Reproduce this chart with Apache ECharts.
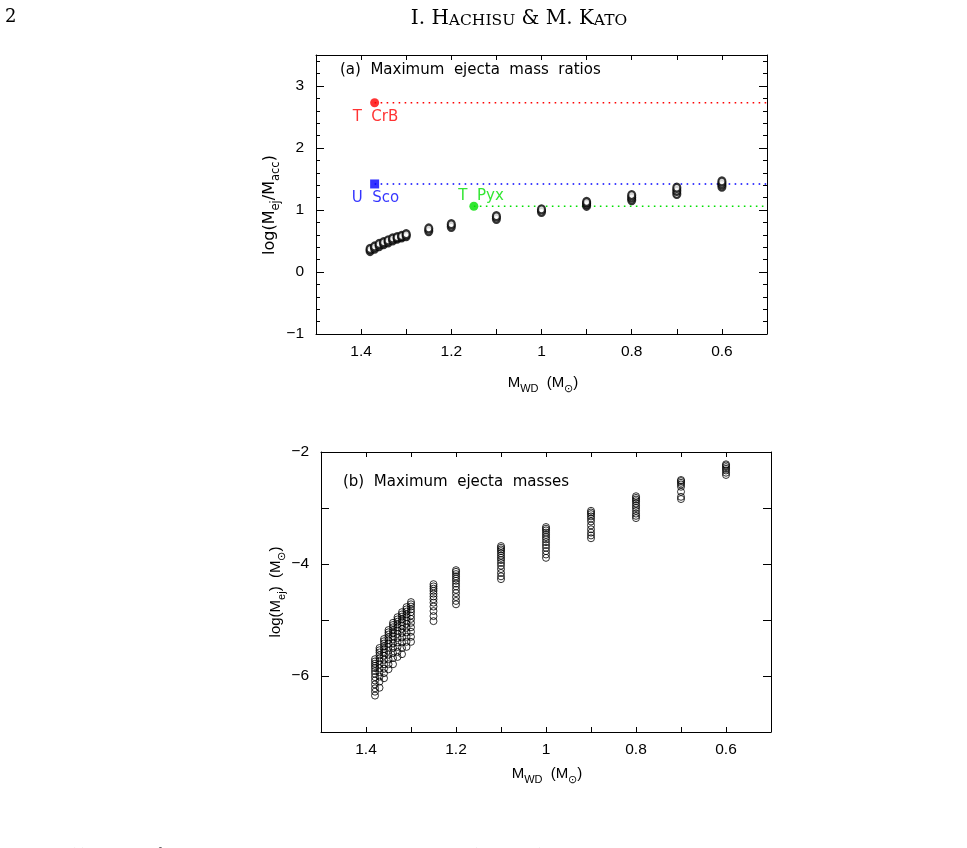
<!DOCTYPE html>
<html>
<head>
<meta charset="utf-8">
<script src="https://cdn.jsdelivr.net/npm/echarts@6/dist/echarts.min.js"></script>
<style>
html, body { margin: 0; padding: 0; background: #fff; }
#main { width: 967px; height: 848px; }
</style>
</head>
<body>
<div id="main"></div>
<script>
// panel (a): log(Mej/Macc) for each WD mass
var massA = [1.38, 1.37, 1.36, 1.35, 1.34, 1.33, 1.32, 1.31, 1.30, 1.25, 1.2, 1.1, 1.0, 0.9, 0.8, 0.7, 0.6];
var ratioA = [
	[0.34, 0.37], [0.38, 0.41], [0.42, 0.45], [0.45, 0.48], [0.48, 0.51],
	[0.51, 0.54], [0.54, 0.56], [0.56, 0.58], [0.58, 0.61],
	[0.66, 0.70], [0.73, 0.77], [0.86, 0.90], [0.97, 1.01],
	[1.07, 1.10, 1.13], [1.16, 1.20, 1.24], [1.26, 1.31, 1.36], [1.38, 1.42, 1.46]
];

// observed recurrent novae
var novaNames = ["T  CrB", "U  Sco", "T  Pyx"];
var novaMass = [1.37, 1.37, 1.15];
var novaRatio = [2.73, 1.42, 1.06];

// panel (b): log(Mej) for each WD mass
var massB = [1.38, 1.37, 1.36, 1.35, 1.34, 1.33, 1.32, 1.31, 1.30, 1.25, 1.2, 1.1, 1.0, 0.9, 0.8, 0.7, 0.6];
var ejectaB = [
	[-5.70, -5.74, -5.78, -5.82, -5.86, -5.91, -5.96, -6.02, -6.08, -6.15, -6.22, -6.28, -6.35],
	[-5.50, -5.54, -5.58, -5.63, -5.68, -5.73, -5.79, -5.86, -5.93, -6.01, -6.10, -6.21],
	[-5.34, -5.38, -5.42, -5.47, -5.52, -5.58, -5.64, -5.71, -5.79, -5.87, -5.95, -6.04],
	[-5.18, -5.22, -5.26, -5.31, -5.36, -5.42, -5.48, -5.55, -5.62, -5.70, -5.79, -5.88],
	[-5.05, -5.09, -5.13, -5.18, -5.23, -5.29, -5.35, -5.42, -5.50, -5.59, -5.68, -5.79],
	[-4.95, -4.99, -5.03, -5.08, -5.13, -5.19, -5.25, -5.32, -5.40, -5.48, -5.57, -5.66],
	[-4.86, -4.90, -4.94, -4.99, -5.04, -5.10, -5.16, -5.23, -5.31, -5.40, -5.50, -5.61],
	[-4.77, -4.81, -4.85, -4.90, -4.95, -5.01, -5.07, -5.14, -5.22, -5.30, -5.39, -5.48],
	[-4.68, -4.72, -4.76, -4.81, -4.86, -4.92, -4.98, -5.05, -5.13, -5.21, -5.30, -5.39],
	[-4.36, -4.40, -4.44, -4.48, -4.53, -4.58, -4.63, -4.69, -4.76, -4.84, -4.93, -5.02],
	[-4.11, -4.14, -4.18, -4.22, -4.26, -4.30, -4.35, -4.40, -4.46, -4.52, -4.59, -4.66, -4.72],
	[-3.68, -3.71, -3.74, -3.77, -3.81, -3.85, -3.89, -3.93, -3.98, -4.03, -4.09, -4.16, -4.22, -4.27],
	[-3.34, -3.37, -3.40, -3.44, -3.48, -3.52, -3.56, -3.61, -3.66, -3.71, -3.77, -3.83, -3.89],
	[-3.05, -3.08, -3.11, -3.15, -3.19, -3.24, -3.31, -3.38, -3.44, -3.49, -3.54],
	[-2.79, -2.82, -2.85, -2.88, -2.92, -2.96, -3.00, -3.05, -3.10, -3.14, -3.18],
	[-2.50, -2.52, -2.55, -2.58, -2.62, -2.71, -2.80, -2.84],
	[-2.22, -2.24, -2.27, -2.30, -2.33, -2.37, -2.41]
];

var FONT = "Liberation Sans";
var WIDE = "DejaVu Sans";
var MINUS = "\u2212";

function pairs(masses, values) {
	var out = [];
	for (var i = 0; i < masses.length; i++) {
		for (var j = 0; j < values[i].length; j++) {
			out.push([masses[i], values[i][j]]);
		}
	}
	return out;
}

function fmtNum(v) {
	return String(v).replace("-", MINUS);
}

// x axes: bottom with labels, top with ticks only
function massAxis(grid, bottom) {
	return {
		gridIndex: grid,
		type: "value",
		position: bottom ? "bottom" : "top",
		min: 0.5, max: 1.5, interval: 0.1,
		inverse: true,
		axisLine: { onZero: false, lineStyle: { color: "#000", width: 1 } },
		axisTick: { inside: true, length: 5, lineStyle: { color: "#000" } },
		splitLine: { show: false },
		axisLabel: {
			show: bottom, margin: 10, fontFamily: FONT, fontSize: 15.5, color: "#000",
			formatter: function (v) {
				var k = Math.round(v * 10);
				if (k % 2 != 0) return "";
				return String(k / 10);
			}
		}
	};
}

function valAxis(grid, left, min, max, minor, labelEvery) {
	return {
		gridIndex: grid,
		type: "value",
		position: left ? "left" : "right",
		min: min, max: max, interval: 1,
		axisLine: { onZero: false, lineStyle: { color: "#000", width: 1 } },
		axisTick: { inside: true, length: 8, lineStyle: { color: "#000" } },
		minorTick: { show: minor > 1, splitNumber: minor, length: 4, lineStyle: { color: "#000" } },
		splitLine: { show: false },
		axisLabel: {
			show: left, margin: 12, fontFamily: FONT, fontSize: 15.5, color: "#000",
			formatter: function (v) {
				if (Math.abs(v - Math.round(v)) > 1e-6) return "";
				if (Math.round(v) % labelEvery != 0) return "";
				return fmtNum(Math.round(v));
			}
		}
	};
}

var openBlack = { color: "#fff", borderColor: "#000", borderWidth: 2.3 };

var series = [];
series.push({
	type: "scatter", xAxisIndex: 0, yAxisIndex: 0,
	symbol: "circle", symbolSize: [7, 8],
	itemStyle: openBlack,
	data: pairs(massA, ratioA), z: 5
});

var novaColors = ["#ff0000", "#0000ff", "#00e000"];
var novaSymbols = ["circle", "rect", "circle"];
var novaLabelPos = [[-17.5, 18.5], [-18.5, 18.5], [-11, -5.5]];
for (var i = 0; i < novaNames.length; i++) {
	// dotted guide from the nova to the right frame
	series.push({
		type: "line", xAxisIndex: 0, yAxisIndex: 0,
		symbol: "none", silent: true,
		lineStyle: { color: novaColors[i], width: 1.6, type: [1.6, 4.4] },
		data: [[novaMass[i], novaRatio[i]], [0.5, novaRatio[i]]], z: 3
	});
	series.push({
		type: "scatter", xAxisIndex: 0, yAxisIndex: 0,
		symbol: novaSymbols[i], symbolSize: 9,
		itemStyle: { color: novaColors[i] },
		label: {
			show: true, formatter: novaNames[i], position: novaLabelPos[i],
			align: "left", verticalAlign: "middle",
			fontFamily: WIDE, fontSize: 15, color: novaColors[i]
		},
		data: [[novaMass[i], novaRatio[i]]], z: 6
	});
}

series.push({
	type: "scatter", xAxisIndex: 2, yAxisIndex: 2,
	symbol: "circle", symbolSize: 7,
	itemStyle: { color: "rgba(0,0,0,0)", borderColor: "#000", borderWidth: 1 },
	data: pairs(massB, ejectaB), z: 5
});

var subRich = {
	m: { fontFamily: FONT, fontSize: 15, color: "#000", lineHeight: 22, verticalAlign: "middle" },
	s: { fontFamily: FONT, fontSize: 11, color: "#000", lineHeight: 11, verticalAlign: "bottom" }
};
var bigRich = {
	m: { fontFamily: WIDE, fontSize: 16, color: "#000", lineHeight: 24, verticalAlign: "middle" },
	s: { fontFamily: WIDE, fontSize: 11.5, color: "#000", lineHeight: 12, verticalAlign: "bottom" }
};

var option = {
	animation: false,
	backgroundColor: "#fff",
	grid: [
		{ left: 316, top: 55, width: 451, height: 279 },
		{ left: 321, top: 452, width: 450, height: 280 }
	],
	xAxis: [massAxis(0, true), massAxis(0, false), massAxis(1, true), massAxis(1, false)],
	yAxis: [
		valAxis(0, true, -1, 3.5, 5, 1), valAxis(0, false, -1, 3.5, 5, 1),
		valAxis(1, true, -7, -2, 1, 2), valAxis(1, false, -7, -2, 1, 2)
	],
	series: series,
	graphic: [
		{ type: "text", left: 5, top: 8, style: { text: "2", font: "18px 'DejaVu Serif'", fill: "#000" } },
		{
			type: "text", x: 519, y: 18,
			style: {
				text: "{b|I. H}{c|ACHISU}{b| & M. K}{c|ATO}",
				align: "center", verticalAlign: "middle",
				rich: {
					b: { fontFamily: "DejaVu Serif", fontSize: 20, color: "#000", verticalAlign: "bottom", lineHeight: 22 },
					c: { fontFamily: "DejaVu Serif", fontSize: 15.5, color: "#000", verticalAlign: "bottom", lineHeight: 18 }
				}
			}
		},
		{ type: "text", x: 340, y: 70, style: { text: "(a)  Maximum  ejecta  mass  ratios", font: "15px '" + WIDE + "'", fill: "#000", verticalAlign: "middle" } },
		{ type: "text", x: 343, y: 482, style: { text: "(b)  Maximum  ejecta  masses", font: "15px '" + WIDE + "'", fill: "#000", verticalAlign: "middle" } },
		{
			type: "text", x: 270, y: 205, rotation: Math.PI / 2,
			style: { text: "{m|log(M}{s|ej}{m|/M}{s|acc}{m|)}", rich: bigRich, align: "center", verticalAlign: "middle" }
		},
		{
			type: "text", x: 276, y: 592, rotation: Math.PI / 2,
			style: { text: "{m|log(M}{s|ej}{m|)  (M}{s|\u2299}{m|)}", rich: subRich, align: "center", verticalAlign: "middle" }
		},
		{
			type: "text", x: 543, y: 383,
			style: { text: "{m|M}{s|WD}{m|  (M}{s|\u2299}{m|)}", rich: subRich, align: "center", verticalAlign: "middle" }
		},
		{
			type: "text", x: 547, y: 774,
			style: { text: "{m|M}{s|WD}{m|  (M}{s|\u2299}{m|)}", rich: subRich, align: "center", verticalAlign: "middle" }
		},
		{
			type: "text", x: 5, y: 847,
			style: { text: "Figure 1.   (a) The ratio of the maximum ejecta mass to the accreted mass, log(Mej/Macc), plotted against the WD", font: "15px 'Liberation Serif'", fill: "#000" }
		}
	]
};

var chart = echarts.init(document.getElementById("main"), null, { renderer: "canvas" });
chart.setOption(option);
</script>
</body>
</html>
